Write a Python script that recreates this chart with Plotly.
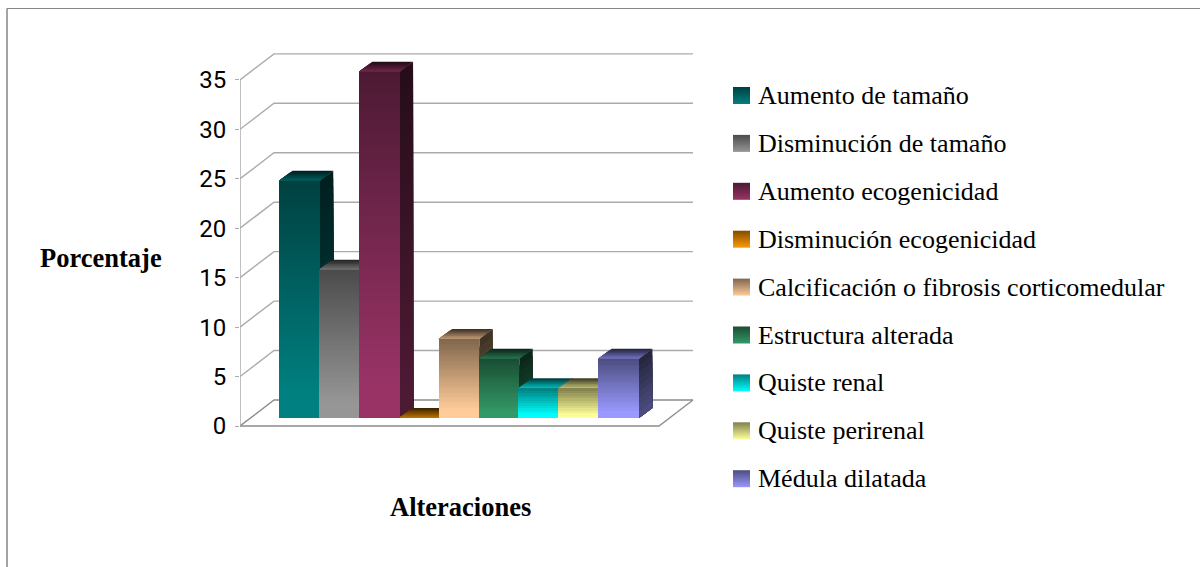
import math
import plotly.graph_objects as go

# Ultrasound findings and the percentage of cases for each one
categories = [
    "Aumento de tamaño",
    "Disminución de tamaño",
    "Aumento ecogenicidad",
    "Disminución ecogenicidad",
    "Calcificación o fibrosis corticomedular",
    "Estructura alterada",
    "Quiste renal",
    "Quiste perirenal",
    "Médula dilatada",
]
values = [24, 15, 35, 0, 8, 6, 3, 3, 6]
colors = ["#008080", "#969696", "#993366", "#FF9900", "#FFCC99",
          "#339966", "#00FFFF", "#FFFF99", "#9999FF"]
y_ticks = [0, 5, 10, 15, 20, 25, 30, 35]

W, H = 1200, 567
SERIF = "Liberation Serif"

# Oblique projection constants, in axis units (categories / percent)
PX_X, PX_Y = 39.9, 9.89
WALL_DX, WALL_DY = 34 / PX_X, 26 / PX_Y
BAR_DX, BAR_DY = 13.5 / PX_X, 10 / PX_Y
BAR_FLOOR = 8 / PX_Y
BAR_W = 1.02
X_MIN = (240 - 299) / PX_X
WALL_X_RIGHT = X_MIN + 453 / PX_X
FLOOR_X_RIGHT = X_MIN + 419 / PX_X

# Plot window, slightly larger than the drawing so no line sits on its edge
PLOT_LEFT, PLOT_RIGHT, PLOT_TOP, PLOT_BOTTOM = 240, 700, 48, 432
X_MAX = X_MIN + (PLOT_RIGHT - PLOT_LEFT) / PX_X
Y_MIN = -(PLOT_BOTTOM - 426) / PX_Y
Y_MAX = (426 - PLOT_TOP) / PX_Y
X_DOMAIN = [PLOT_LEFT / W, PLOT_RIGHT / W]
Y_DOMAIN = [1 - PLOT_BOTTOM / H, 1 - PLOT_TOP / H]
GRID = "#ABABAB"
EDGE = "#8C8C8C"


def shade(hex_color, f):
    r, g, b = (int(hex_color[k:k + 2], 16) for k in (1, 3, 5))
    return f"rgb({round(r * f)},{round(g * f)},{round(b * f)})"


def skip(**kw):
    return go.Scatter(hoverinfo="skip", showlegend=False, cliponaxis=False, **kw)


fig = go.Figure()

# Back wall gridlines with their slanted connectors to the value axis
for v in y_ticks:
    fig.add_trace(skip(
        x=[X_MIN, X_MIN + WALL_DX, WALL_X_RIGHT],
        y=[v, v + WALL_DY, v + WALL_DY],
        mode="lines", line=dict(color=GRID if v else EDGE, width=1.4),
    ))

# Floor outline and the value axis
fig.add_trace(skip(
    x=[X_MIN, FLOOR_X_RIGHT, FLOOR_X_RIGHT + WALL_DX],
    y=[0, 0, WALL_DY],
    mode="lines", line=dict(color=EDGE, width=1.3),
))
fig.add_trace(skip(
    x=[X_MIN, X_MIN], y=[0, max(y_ticks)],
    mode="lines", line=dict(color=GRID, width=1.5),
))

# Side and top faces, painted left to right so nearer faces overlap
for i, (v, c) in enumerate(zip(values, colors)):
    x0, x1 = i - 0.5, i - 0.5 + BAR_W
    top = BAR_FLOOR + v
    if v > 0:
        n = max(10, math.ceil(v * 1.3))
        for j in range(n):
            t = j / (n - 1)
            vj = top - t * v
            f = 0.25 + 0.25 * min(1, t / 0.9)
            fig.add_trace(skip(
                x=[x1, x1 + BAR_DX, x1 + BAR_DX, x1, x1],
                y=[vj, vj + BAR_DY, BAR_FLOOR + BAR_DY, BAR_FLOOR, vj],
                mode="lines", line=dict(width=0), fill="toself",
                fillcolor=shade(c, f),
            ))
    m = 8
    for j in range(m):
        t = j / (m - 1)
        d = 1 - t
        fig.add_trace(skip(
            x=[x0 + d * BAR_DX, x1 + d * BAR_DX, x1, x0, x0 + d * BAR_DX],
            y=[top + d * BAR_DY, top + d * BAR_DY, top, top, top + d * BAR_DY],
            mode="lines", line=dict(width=0), fill="toself",
            fillcolor=shade(c, 0.25 + 0.55 * t),
        ))

# Front faces: real bars, each split into thin bands for the vertical shading
for i, (v, c) in enumerate(zip(values, colors)):
    if v <= 0:
        continue
    n = math.ceil(v * 4)
    h = v / n
    fig.add_trace(go.Bar(
        x=[i - 0.5 + BAR_W / 2] * n, y=[h * 1.02] * n,
        base=[BAR_FLOOR + k * h for k in range(n)],
        width=BAR_W, name=categories[i], hoverinfo="skip", showlegend=False,
        marker=dict(
            color=[shade(c, 0.5 + 0.5 * min(1, (n - k - 0.5) / n / 0.9))
                   for k in range(n)],
            line=dict(width=0),
        ),
        xaxis="x2", yaxis="y2",
    ))

# Key swatches and labels on a full-page axis pair measured in pixels
LEGEND_TOP, LEGEND_STEP = 95.5, 47.9
for i, (name, c) in enumerate(zip(categories, colors)):
    y = LEGEND_TOP + i * LEGEND_STEP
    fig.add_trace(go.Scatter(
        x=[741.5], y=[y], mode="markers", name=name,
        hoverinfo="skip", showlegend=False, cliponaxis=False,
        marker=dict(symbol="square", size=17, color=shade(c, 0.5),
                    line=dict(width=0),
                    gradient=dict(type="vertical", color=c)),
        xaxis="x3", yaxis="y3",
    ))
    fig.add_annotation(
        x=756, y=y, xref="x3", yref="y3", text=name, showarrow=False,
        xanchor="left", yanchor="middle",
        font=dict(family=SERIF, size=26, color="black"),
    )

for text, x, y in (("Porcentaje", 100.5, 258), ("Alteraciones", 460.5, 507)):
    fig.add_annotation(
        x=x, y=y, xref="x3", yref="y3", text=f"<b>{text}</b>", showarrow=False,
        font=dict(family=SERIF, size=26.5, color="black"),
    )

hidden = dict(visible=False, fixedrange=True, automargin=False)
fig.update_layout(
    template="none",
    width=W, height=H, autosize=False,
    margin=dict(l=0, r=0, t=0, b=0, pad=0),
    paper_bgcolor="white", plot_bgcolor="rgba(0,0,0,0)",
    barmode="overlay", bargap=0,
    xaxis=dict(domain=X_DOMAIN, range=[X_MIN, X_MAX], **hidden),
    yaxis=dict(
        domain=Y_DOMAIN, range=[Y_MIN, Y_MAX], anchor="x",
        tickmode="array", tickvals=y_ticks, ticktext=[str(t) for t in y_ticks],
        ticks="outside", ticklen=4, tickcolor=GRID, tickwidth=1.3,
        tickfont=dict(family="Roboto", size=24, color="black"),
        ticklabelstandoff=4,
        showgrid=False, zeroline=False, showline=False, fixedrange=True,
        automargin=False,
    ),
    xaxis2=dict(domain=X_DOMAIN, range=[X_MIN, X_MAX], anchor="y2",
                overlaying="x", **hidden),
    yaxis2=dict(domain=Y_DOMAIN, range=[Y_MIN, Y_MAX], anchor="x2",
                overlaying="y", **hidden),
    xaxis3=dict(domain=[0, 1], range=[0, W], anchor="y3", **hidden),
    yaxis3=dict(domain=[0, 1], range=[H, 0], anchor="x3", **hidden),
    shapes=[
        dict(type="line", xref="paper", yref="paper",
             x0=7 / W, x1=1, y0=1 - 8.5 / H, y1=1 - 8.5 / H,
             line=dict(color="#868686", width=1.2)),
        dict(type="line", xref="paper", yref="paper",
             x0=7 / W, x1=7 / W, y0=0, y1=1 - 8.5 / H,
             line=dict(color="#868686", width=1.5)),
    ],
)

fig.write_html("out.html", config=dict(displayModeBar=False))
